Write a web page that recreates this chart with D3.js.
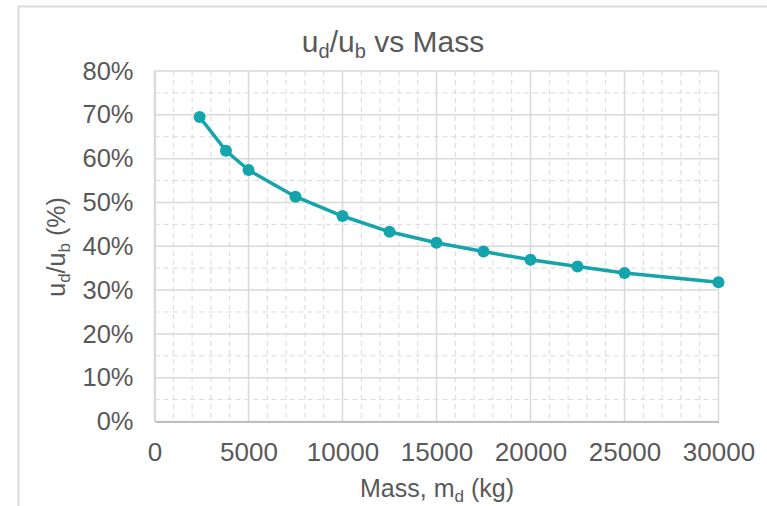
<!DOCTYPE html>
<html>
<head>
<meta charset="utf-8">
<script src="https://cdn.jsdelivr.net/npm/d3@7"></script>
<style>
  html, body { margin: 0; padding: 0; background: #ffffff; }
  svg { display: block; font-family: "Liberation Sans", Arial, sans-serif; }
</style>
</head>
<body>
<svg id="chart" width="767" height="506"></svg>
<script>
// Velocity ratio against mass
const massKg = [2400, 3800, 5000, 7500, 10000, 12500, 15000, 17500, 20000, 22500, 25000, 30000];
const ratioPct = [69.5, 61.8, 57.4, 51.3, 46.9, 43.3, 40.8, 38.8, 36.9, 35.4, 33.9, 31.8];
const xTicks = [0, 5000, 10000, 15000, 20000, 25000, 30000];
const yTicks = [0, 10, 20, 30, 40, 50, 60, 70, 80];

const svg = d3.select("#chart");
const W = 767, H = 506;
const plot = { left: 154.5, right: 718.5, top: 71, bottom: 421.5 };

const textColor = "#595959";
const gridColor = "#d9d9d9";
const lineColor = "#13a4ac";
const font = "Liberation Sans, Arial, sans-serif";

// chart frame
svg.append("rect")
  .attr("x", 18.5).attr("y", 6.5)
  .attr("width", W + 10).attr("height", H + 10)
  .attr("fill", "#fff").attr("stroke", gridColor).attr("stroke-width", 2);

const x = d3.scaleLinear().domain([0, 30000]).range([plot.left, plot.right]);
const y = d3.scaleLinear().domain([0, 80]).range([plot.bottom, plot.top]);

// minor grid (dashed)
const xMinor = d3.range(0, 30001, 1000).filter(v => v % 5000 !== 0);
const yMinor = d3.range(5, 80, 10);
const g = svg.append("g");
g.selectAll(".xminor").data(xMinor).join("line")
  .attr("x1", d => x(d)).attr("x2", d => x(d))
  .attr("y1", plot.top).attr("y2", plot.bottom)
  .attr("stroke", gridColor).attr("stroke-width", 1).attr("stroke-dasharray", "5,4");
g.selectAll(".yminor").data(yMinor).join("line")
  .attr("y1", d => y(d)).attr("y2", d => y(d))
  .attr("x1", plot.left).attr("x2", plot.right)
  .attr("stroke", gridColor).attr("stroke-width", 1).attr("stroke-dasharray", "5,4");

// major grid (solid)
g.selectAll(".xmajor").data(xTicks).join("line")
  .attr("x1", d => x(d)).attr("x2", d => x(d))
  .attr("y1", plot.top).attr("y2", plot.bottom)
  .attr("stroke", gridColor).attr("stroke-width", 1.5);
g.selectAll(".ymajor").data(yTicks).join("line")
  .attr("y1", d => y(d)).attr("y2", d => y(d))
  .attr("x1", plot.left).attr("x2", plot.right)
  .attr("stroke", gridColor).attr("stroke-width", 1.5);

// axes
const xAxis = d3.axisBottom(x).tickValues(xTicks).tickSize(0).tickPadding(21).tickFormat(d3.format("d"));
const yAxis = d3.axisLeft(y).tickValues(yTicks).tickSize(0).tickPadding(21).tickFormat(d => d + "%");

const gx = svg.append("g").attr("transform", `translate(0,${plot.bottom})`).call(xAxis);
gx.select(".domain").attr("stroke", "#bfbfbf").attr("stroke-width", 2);
gx.selectAll("text").attr("fill", textColor).attr("font-size", 26).attr("font-family", font);

const gy = svg.append("g").attr("transform", `translate(${plot.left},0)`).call(yAxis);
gy.select(".domain").attr("stroke", "#d9d9d9").attr("stroke-width", 2);
gy.selectAll("text").attr("fill", textColor).attr("font-size", 25.5).attr("font-family", font);

// series
const pts = massKg.map((m, i) => ({ m, r: ratioPct[i] }));
svg.append("path")
  .datum(pts)
  .attr("fill", "none").attr("stroke", lineColor).attr("stroke-width", 3.5)
  .attr("stroke-linejoin", "round")
  .attr("d", d3.line().x(d => x(d.m)).y(d => y(d.r)));
svg.selectAll(".pt").data(pts).join("circle")
  .attr("cx", d => x(d.m)).attr("cy", d => y(d.r)).attr("r", 6)
  .attr("fill", lineColor);

// title
const title = svg.append("text")
  .attr("x", 393).attr("y", 52).attr("text-anchor", "middle")
  .attr("fill", textColor).attr("font-size", 30);
title.append("tspan").text("u");
title.append("tspan").attr("font-size", 20).attr("dy", 6).text("d");
title.append("tspan").attr("dy", -6).text("/u");
title.append("tspan").attr("font-size", 20).attr("dy", 6).text("b");
title.append("tspan").attr("dy", -6).text(" vs Mass");

// x axis title
const xt = svg.append("text")
  .attr("x", 437).attr("y", 497).attr("text-anchor", "middle")
  .attr("fill", textColor).attr("font-size", 25);
xt.append("tspan").text("Mass, m");
xt.append("tspan").attr("font-size", 17).attr("dy", 5).text("d");
xt.append("tspan").attr("dy", -5).text(" (kg)");

// y axis title
const yt = svg.append("text")
  .attr("transform", "translate(65,247) rotate(-90)")
  .attr("text-anchor", "middle")
  .attr("fill", textColor).attr("font-size", 25);
yt.append("tspan").text("u");
yt.append("tspan").attr("font-size", 17).attr("dy", 5).text("d");
yt.append("tspan").attr("dy", -5).text("/u");
yt.append("tspan").attr("font-size", 17).attr("dy", 5).text("b");
yt.append("tspan").attr("dy", -5).text(" (%)");
</script>
</body>
</html>
